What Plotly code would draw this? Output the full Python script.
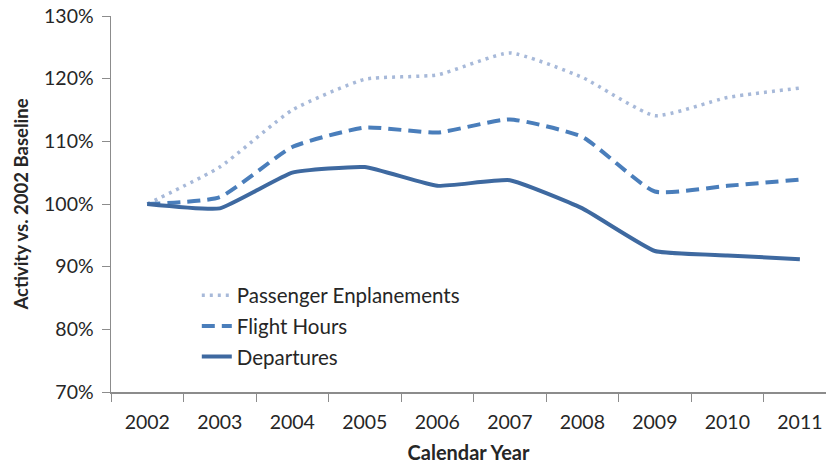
import plotly.graph_objects as go

years = ["2002", "2003", "2004", "2005", "2006", "2007", "2008", "2009", "2010", "2011"]
passenger = [100.0, 105.9, 115.0, 119.9, 120.6, 124.1, 120.2, 114.1, 117.0, 118.5]
flight_hours = [100.0, 101.1, 109.1, 112.2, 111.4, 113.5, 110.7, 102.0, 102.9, 103.9]
departures = [100.0, 99.3, 105.0, 105.9, 102.9, 103.8, 99.3, 92.5, 91.8, 91.2]
y_ticks = [70, 80, 90, 100, 110, 120, 130]
y_tick_text = [f"{v}%" for v in y_ticks]

font = "Lato"
txt = "#262626"
axc = "#8C8C8C"
fig = go.Figure()
fig.add_trace(go.Scatter(x=years, y=passenger, name="Passenger Enplanements", mode="lines", legendgroup="a",
                         line=dict(color="#A7B9D9", width=3.5, dash="3px,5px", shape="spline", smoothing=0.5)))
fig.add_trace(go.Scatter(x=years, y=flight_hours, name="Flight Hours", mode="lines", legendgroup="b",
                         line=dict(color="#4A7EBB", width=4, dash="13px,7px", shape="spline", smoothing=0.5)))
fig.add_trace(go.Scatter(x=years, y=departures, name="Departures", mode="lines", legendgroup="c",
                         line=dict(color="#3E69A0", width=4, shape="spline", smoothing=0.4)))

fig.update_layout(
    width=826, height=464,
    margin=dict(l=111, r=0, t=16, b=72),
    paper_bgcolor="white", plot_bgcolor="white",
    font=dict(family=font, size=19, color=txt),
    showlegend=True,
    legend=dict(x=0.12, y=0.31, xanchor="left", yanchor="top",
                bgcolor="rgba(0,0,0,0)", font=dict(family=font, size=20.5, color=txt),
                tracegroupgap=1, itemwidth=30, traceorder="grouped"),
    xaxis=dict(type="category", range=[-0.5, 9.36], tickson="boundaries", automargin=False,
               ticks="outside", ticklen=8, tickcolor=axc, ticklabelstandoff=12, ticklabeloverflow="allow",
               showline=True, linecolor=axc, linewidth=1.5, showgrid=False,
               tickfont=dict(family=font, size=19.5, color=txt),
               title=dict(text="<b>Calendar Year</b>", font=dict(family=font, size=20, color=txt), standoff=15)),
    yaxis=dict(range=[70, 130], tickvals=y_ticks, ticktext=y_tick_text, automargin=False,
               ticks="outside", ticklen=8, tickcolor=axc, ticklabelstandoff=4, ticklabeloverflow="allow",
               showline=True, linecolor=axc, linewidth=1.5, showgrid=False, zeroline=False,
               tickfont=dict(family=font, size=19.5, color=txt),
               title=dict(text="<b>Activity vs. 2002 Baseline</b>", font=dict(family=font, size=18.5, color=txt), standoff=10)),
)
# remove the default 8px page margin so the 826x464 figure fills the window exactly
fig.write_html("out.html", config={"displayModeBar": False, "staticPlot": True},
               post_script="document.body.style.margin='0';document.documentElement.style.overflow='hidden';")
